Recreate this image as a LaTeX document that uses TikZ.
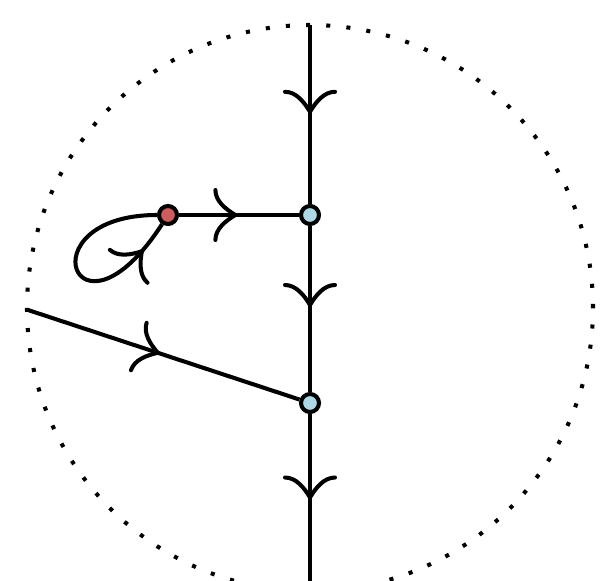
\documentclass[tikz,border=0pt]{standalone}
\usetikzlibrary{decorations.markings}
\definecolor{vtxblue}{RGB}{173,216,230}
\definecolor{vtxred}{RGB}{205,92,92}
\tikzset{
  vtx/.style={circle, draw=black, line width=2.3pt, minimum size=0.36cm, inner sep=0pt},
  bvtx/.style={vtx, fill=vtxblue},
  rvtx/.style={vtx, fill=vtxred},
  prop/.style={line width=2.3pt},
  barb/.style={line width=2.3pt, line cap=round},
  arr/.style={prop, postaction={decorate}, decoration={markings,
    mark=at position #1 with {\draw[barb] (-20,25) .. controls (-20,14) and (-10,6) .. (0,0)
      .. controls (-10,-6) and (-20,-14) .. (-20,-25);}}},
  rim/.style={line width=2.3pt, dash pattern=on 2.3pt off 9.2pt},
}
\begin{document}
\begin{tikzpicture}[x=0.02cm, y=0.02cm]
  \useasboundingbox (0,0) rectangle (615,-581);
  \clip (0,0) rectangle (615,-581);
  % boundary
  \draw[rim] (310,-308) circle (283);
  % vertices
  \node[bvtx] (b1) at (310,-215) {};
  \node[bvtx] (b2) at (310,-403) {};
  \node[rvtx] (r1) at (168,-215) {};
  \coordinate (top) at (310,-25);
  \coordinate (bot) at (310,-581);
  \coordinate (lft) at (28,-310);
  % lines
  \draw[arr=0.485] (top) -- (b1);
  \draw[arr=0.476] (b1) -- (b2);
  \draw[arr=0.5] (b2) -- (bot);
  \draw[arr=0.47] (r1) -- (b1);
  \draw[arr=0.478] (lft) -- (b2);
  \draw[arr=0.85] (r1) .. controls +(180:145) and +(237:170) .. (r1);
\end{tikzpicture}
\end{document}
